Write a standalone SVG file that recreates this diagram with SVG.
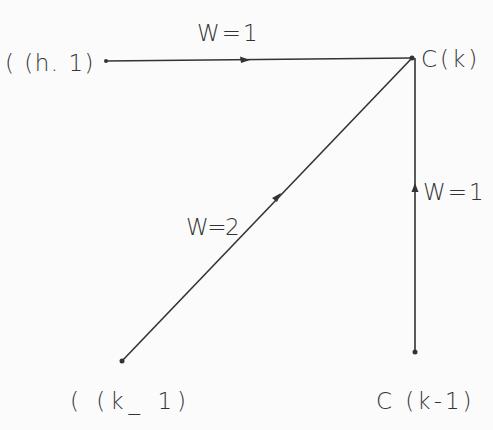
<svg xmlns="http://www.w3.org/2000/svg" width="493" height="430" viewBox="0 0 493 430">
<style>
text{font-family:"DejaVu Sans","Liberation Sans",sans-serif;font-size:23px;fill:#333;font-weight:300}
.e{stroke:#333;stroke-width:1.6;fill:none}
.a{fill:#333}
</style>
<rect width="493" height="430" fill="#fbfbfb"/>
<g id="connectors">
<line class="e" x1="105" y1="61" x2="412" y2="58"/>
<path class="a" d="M250,60 L240,56.5 L241,63 Z"/>
<line class="e" x1="122" y1="361" x2="412" y2="58"/>
<path class="a" d="M281,193 L272,198 L277,202 Z"/>
<line class="e" x1="415" y1="58" x2="415" y2="352"/>
<path class="a" d="M415,183 L411.5,192 L418.5,192 Z"/>
</g>
<g id="n-ck">
<circle class="a" cx="412" cy="58" r="2.5"/>
<text x="421" y="67" letter-spacing="3">C(k)</text>
</g>
<g id="n-top-left">
<circle class="a" cx="106" cy="61" r="2"/>
<text x="5" y="71" letter-spacing="1.5">( (h. 1)</text>
</g>
<g id="n-bottom-left">
<circle class="a" cx="122" cy="361" r="2.5"/>
<text x="70" y="409" letter-spacing="5">( (k_ 1)</text>
</g>
<g id="n-bottom-right">
<circle class="a" cx="415" cy="352" r="2.5"/>
<text x="376" y="409" letter-spacing="3">C (k-1)</text>
</g>
<g id="labels">
<text x="197" y="41" letter-spacing="2">W=1</text>
<text x="186" y="235" letter-spacing="-1.5">W=2</text>
<text x="423" y="200" letter-spacing="2">W=1</text>
</g>
</svg>
